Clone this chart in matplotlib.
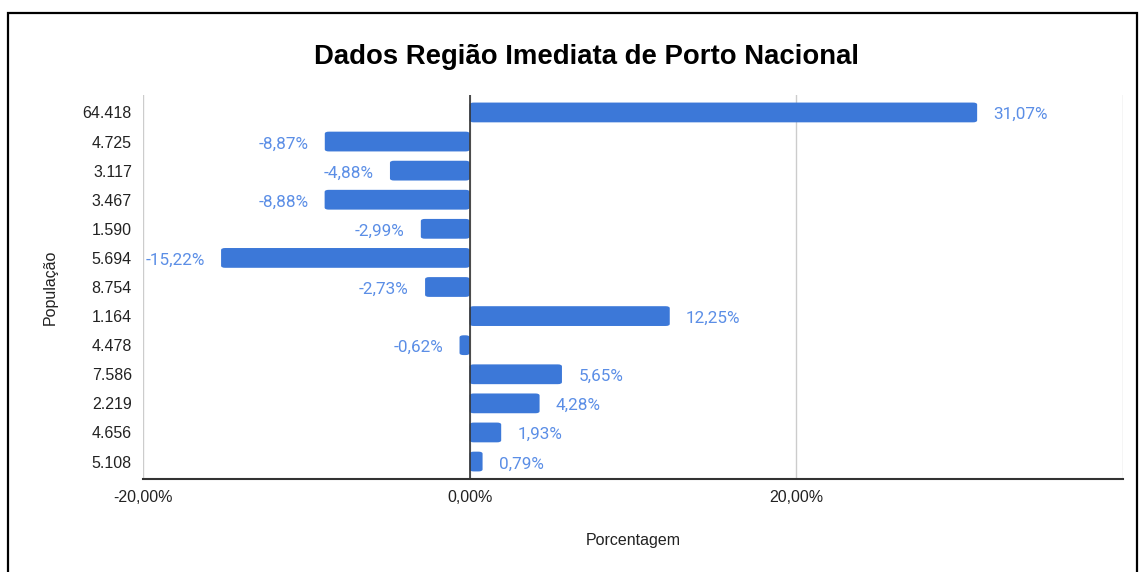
import numpy as np
import matplotlib.pyplot as plt
from matplotlib.patches import Rectangle, FancyBboxPatch

populacao = ['64.418', '4.725', '3.117', '3.467', '1.590', '5.694', '8.754',
             '1.164', '4.478', '7.586', '2.219', '4.656', '5.108']
porcentagem = [31.07, -8.87, -4.88, -8.88, -2.99, -15.22, -2.73,
               12.25, -0.62, 5.65, 4.28, 1.93, 0.79]
xticks = [-20, 0, 20, 40]
xtick_labels = ['-20,00%', '0,00%', '20,00%', '']

plt.rcParams['font.family'] = ['Liberation Sans', 'DejaVu Sans']

fig = plt.figure(figsize=(11.4, 5.72), dpi=100)
ax = fig.add_axes([143/1140, 1-479/572, (1123-143)/1140, (479-95)/572])

bar_color = '#3c78d8'
lbl_color = '#5b8ee6'
y = np.arange(len(populacao))
bars = ax.barh(y, porcentagem, height=0.68, color=bar_color, zorder=3)

# rounded look for bar ends
for b in bars:
    b.set_visible(False)
    x0, y0, w, h = b.get_x(), b.get_y(), b.get_width(), b.get_height()
    ax.add_patch(FancyBboxPatch((min(x0, x0 + w), y0), abs(w), h,
                                boxstyle='round,pad=0,rounding_size=0.25',
                                mutation_aspect=1/3.5,
                                fc=bar_color, ec='none', zorder=3))

for yi, v in zip(y, porcentagem):
    txt = f'{v:.2f}%'.replace('.', ',')
    if v >= 0:
        ax.text(v + 1.0, yi + 0.08, txt, va='center', ha='left', color=lbl_color,
                fontsize=12.3, family=['Roboto', 'DejaVu Sans'])
    else:
        ax.text(v - 1.0, yi + 0.08, txt, va='center', ha='right', color=lbl_color,
                fontsize=12.3, family=['Roboto', 'DejaVu Sans'])

ax.set_xlim(-20, 40)
ax.set_ylim(len(populacao) - 0.4, -0.6)
ax.set_yticks(y)
ax.set_yticklabels(populacao, fontsize=11.5, color='#222222')
ax.set_xticks(xticks)
ax.set_xticklabels(xtick_labels, fontsize=11.5, color='#222222')
ax.tick_params(length=0, pad=8)
ax.tick_params(axis='y', pad=8)

ax.grid(axis='x', color='#cccccc', linewidth=1, zorder=0)
ax.axvline(0, color='#333333', linewidth=1.2, zorder=4)
for s in ['top', 'right', 'left']:
    ax.spines[s].set_visible(False)
ax.spines['bottom'].set_color('#333333')
ax.spines['bottom'].set_linewidth(1.5)

ax.set_xlabel('Porcentagem', fontsize=11.5, color='#222222', labelpad=20)
ax.set_ylabel('População', fontsize=11.5, color='#222222', labelpad=18)

fig.text(587/1140, 1-57/572, 'Dados Região Imediata de Porto Nacional',
         ha='center', va='center', fontsize=19.8, fontweight='bold',
         color='#000000')

# frame around the chart
fig.patches.append(Rectangle((8/1140, -0.05), (1137-8)/1140, 1.05-13/572,
                             transform=fig.transFigure, fill=False,
                             ec='#000000', lw=1.6))

fig.savefig('out.png', dpi=100)
